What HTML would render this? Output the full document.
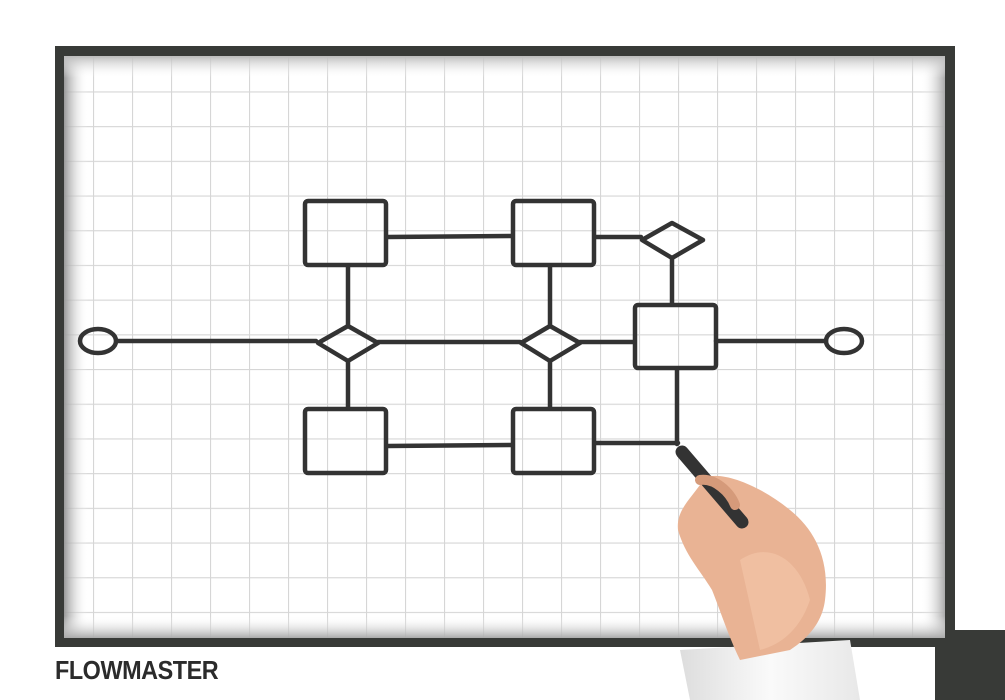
<!DOCTYPE html>
<html><head><style>
html,body{margin:0;padding:0;background:#fff;width:1005px;height:700px;overflow:hidden;position:relative;font-family:"Liberation Sans",sans-serif}
.t{position:absolute;left:55px;top:655px;font-size:26px;font-weight:bold;color:#2b2b2b;letter-spacing:-0.5px;transform:scaleX(0.9);transform-origin:left}
</style></head><body>
<svg width="1005" height="700" style="position:absolute;left:0;top:0">
<defs>
<pattern id="g" x="15" y="22" width="39" height="34.7" patternUnits="userSpaceOnUse">
<path d="M0 0H39M0 0V34.7" stroke="#d6d6d6" stroke-width="2.2" fill="none"/>
</pattern>
<linearGradient id="lg" x1="0" x2="1"><stop offset="0" stop-color="#999"/><stop offset="1" stop-color="#fff" stop-opacity="0"/></linearGradient>
<linearGradient id="rg" x1="1" x2="0"><stop offset="0" stop-color="#aaa"/><stop offset="1" stop-color="#fff" stop-opacity="0"/></linearGradient>
<linearGradient id="tg" y1="0" y2="1" x1="0" x2="0"><stop offset="0" stop-color="#bbb"/><stop offset="1" stop-color="#fff" stop-opacity="0"/></linearGradient>
<linearGradient id="bg" y1="1" y2="0" x1="0" x2="0"><stop offset="0" stop-color="#aaa"/><stop offset="1" stop-color="#fff" stop-opacity="0"/></linearGradient>
<linearGradient id="sl" x1="0" x2="1"><stop offset="0" stop-color="#ddd"/><stop offset="0.5" stop-color="#fafafa"/><stop offset="1" stop-color="#e8e8e8"/></linearGradient>
</defs>
<rect x="935" y="630" width="70" height="70" fill="#383a37"/>
<rect x="55" y="46" width="900" height="601" fill="#383a37"/>
<rect x="64" y="56" width="881" height="582" fill="#fff"/>
<rect x="64" y="56" width="881" height="582" fill="url(#g)"/>
<rect x="64" y="56" width="24" height="582" fill="url(#lg)"/>
<rect x="921" y="56" width="24" height="582" fill="url(#rg)"/>
<rect x="64" y="56" width="881" height="22" fill="url(#tg)"/>
<rect x="64" y="616" width="881" height="22" fill="url(#bg)"/>
<g stroke="#333" stroke-width="4.5" fill="none" stroke-linecap="round" stroke-linejoin="round">
<rect x="305" y="201" width="81" height="64" rx="3"/>
<rect x="513" y="201" width="81" height="64" rx="3"/>
<rect x="305" y="409" width="81" height="64" rx="3"/>
<rect x="513" y="409" width="81" height="64" rx="3"/>
<rect x="635" y="305" width="81" height="63" rx="3"/>
<path d="M318 343L348 326L378 343L348 361Z"/>
<path d="M521 343L550 326L580 343L550 361Z"/>
<path d="M642 240L672 223L703 240L672 258Z"/>
<ellipse cx="98" cy="341" rx="18" ry="12"/>
<ellipse cx="844" cy="341" rx="18" ry="12"/>
<path d="M118 341L316 341M378 342L520 342M580 342L634 342M716 341L826 341"/>
<path d="M387 237L512 236M595 237L641 237M387 446L512 445M595 443L678 443"/>
<path d="M348 266V325M348 362V408M550 266V325M550 362V408M672 258V304M677 369V444"/>
</g>
<path d="M680 650 L850 640 L860 700 L690 700Z" fill="url(#sl)"/>
<path d="M705 478 C720 470 760 485 790 510 C815 530 830 560 825 600 C822 625 805 640 790 650 L740 660 C730 640 720 610 712 590 C700 570 685 555 678 530 C676 510 690 500 705 478Z" fill="#e9b394"/>
<path d="M740 560 C770 540 800 560 810 600 C800 630 780 645 760 650Z" fill="#f2c4a6" opacity="0.7"/>
<path d="M682 452 L742 522" stroke="#333" stroke-width="13" stroke-linecap="round"/>
<path d="M700 480 C715 478 730 492 735 505" stroke="#d59a7a" stroke-width="10" fill="none" stroke-linecap="round"/>
</svg>
<div class="t">FLOWMASTER</div>
</body></html>
